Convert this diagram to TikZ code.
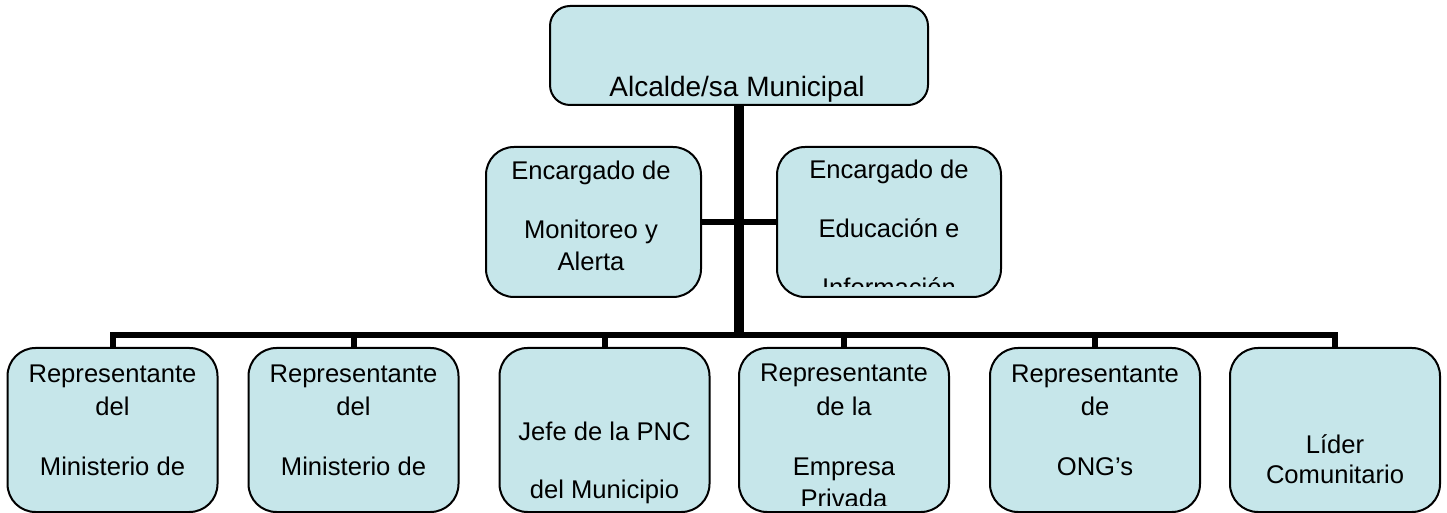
\documentclass[tikz,border=0pt]{standalone}
\usepackage{fontspec}
\setmainfont{Liberation Sans}
\definecolor{boxfill}{RGB}{198,230,234}
\tikzset{
  orgbox/.style={draw, line width=1pt, fill=boxfill, rounded corners=14pt, inner sep=0pt},
  orgtext/.style={align=center, inner sep=0pt, anchor=base, font=\fontsize{12.8}{16.5}\selectfont},
  link/.style={line width=3pt},
  trunk/.style={line width=5pt}
}
\begin{document}
\begin{tikzpicture}[x=0.5pt,y=-0.5pt]
  \useasboundingbox (0,0) rectangle (1447,513);

  % boxes
  \node[orgbox, rounded corners=10pt, minimum width=189pt, minimum height=49.5pt] (alcalde) at (739,55.5) {};
  \node[orgbox, minimum width=107.5pt, minimum height=75pt] (monitoreo) at (593.5,222) {};
  \node[orgbox, minimum width=112pt, minimum height=75pt] (educacion) at (889,222) {};
  \foreach \n/\x in {r1/112.5, r2/353.5, r3/604.5, r4/844, r5/1095, r6/1335}
    \node[orgbox, minimum width=105pt, minimum height=82pt] (\n) at (\x,430) {};

  % connectors
  \coordinate (bus) at (737,335);
  \draw[trunk] (alcalde.south) -- (alcalde.south |- bus);
  \draw[link] (monitoreo.east) -- (educacion.west);
  \draw[link] (r1.north) -- (r1.north |- bus) -- (r6.north |- bus) -- (r6.north);
  \foreach \n in {r2,r3,r4,r5}
    \draw[link] (\n.north) -- (\n.north |- bus);

  % texts (anchored at the baseline of the last line)
  \node[orgtext, font=\fontsize{14}{17}\selectfont] (talcalde) at (737,97) {Alcalde/sa Municipal};
  \node[orgtext] (tmonitoreo) at (591,271) {Encargado de\\[13pt]Monitoreo y\\Alerta};
  \begin{scope}
    \clip (777,147) rectangle (1001,287);
    \node[orgtext] (teducacion) at (889,297) {Encargado de\\[13pt]Educación e\\[13pt]Información};
  \end{scope}
  \node[orgtext] (tr1) at (112.5,475) {Representante\\del\\[13.5pt]Ministerio de};
  \node[orgtext] (tr2) at (353.5,475) {Representante\\del\\[13.5pt]Ministerio de};
  \node[orgtext] (tr3) at (604.5,498) {Jefe de la PNC\\[12.5pt]del Municipio};
  \begin{scope}
    \clip (738,348) rectangle (950,505);
    \node[orgtext] (tr4) at (844,508) {Representante\\de la\\[13.5pt]Empresa\\Privada};
  \end{scope}
  \node[orgtext] (tr5) at (1095,475) {Representante\\de\\[13.5pt]ONG’s};
  \node[orgtext, font=\fontsize{12.8}{15}\selectfont] (tr6) at (1335,483) {Líder\\Comunitario};
\end{tikzpicture}
\end{document}
